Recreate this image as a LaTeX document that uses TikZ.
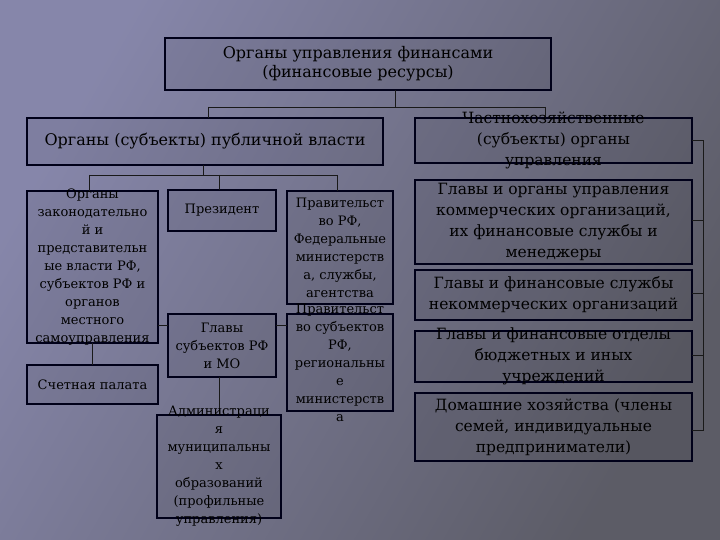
\documentclass[tikz,border=0pt]{standalone}
\usepackage{fontspec}
\setmainfont{DejaVu Serif}
\begin{document}
\begin{tikzpicture}[x=1pt,y=-1pt,
  bx/.style={draw=black!90!blue,line width=1.8pt,fill=black,fill opacity=0.06,draw opacity=1,inner sep=0},
  tx/.style={align=center,text=black,inner sep=0},
  big/.style={tx,font=\fontsize{16}{19}\selectfont},
  sm/.style={tx,font=\fontsize{13}{18}\selectfont},
  rt/.style={tx,font=\fontsize{15.5}{21}\selectfont},
  ln/.style={draw=black!90,line width=0.9pt}]
\shade[left color=black!20!blue!25!white!70!black, right color=black!55!blue!20!white!45!black,shading angle=60] (0,0) rectangle (720,540);
\useasboundingbox (0,0) rectangle (720,540);
\def\bx#1#2#3#4#5{\path[bx] (#2,#3) rectangle (#4,#5); \coordinate (#1) at ({(#2+#4)/2},{(#3+#5)/2});}
\bx{top}{165}{38}{551}{90}
\bx{pub}{27}{118}{383}{165}
\bx{zak}{27}{191}{158}{343}
\bx{sch}{27}{365}{158}{404}
\bx{pre}{168}{190}{276}{231}
\bx{prf}{287}{191}{393}{304}
\bx{gls}{168}{314}{276}{377}
\bx{prs}{287}{314}{393}{411}
\bx{adm}{157}{415}{281}{518}
\bx{r1}{415}{118}{692}{163}
\bx{r2}{415}{180}{692}{264}
\bx{r3}{415}{270}{692}{320}
\bx{r4}{415}{331}{692}{382}
\bx{r5}{415}{393}{692}{461}
% connectors
\draw[ln] (395,90) -- (395,107) (208,107) -- (545,107) (208,107) -- (208,118) (545,107) -- (545,118);
\draw[ln] (203,165) -- (203,175) (89,175) -- (337,175) (89,175) -- (89,191) (219,175) -- (219,190) (337,175) -- (337,191);
\draw[ln] (158,325) -- (168,325) (276,325) -- (287,325);
\draw[ln] (92,343) -- (92,365) (219,377) -- (219,415);
\draw[ln] (692,140) -- (703,140) -- (703,430) -- (692,430) (692,220) -- (703,220) (692,293) -- (703,293) (692,355) -- (703,355);
% texts
\node[big] at (top) {Органы управления финансами\\(финансовые ресурсы)};
\node[big] at (pub) {Органы (субъекты) публичной власти};
\node[sm] at (zak) {Органы\\законодательно\\й и\\представительн\\ые власти РФ,\\субъектов РФ и\\органов\\местного\\самоуправления};
\node[sm] at (sch) {Счетная палата};
\node[sm] at (pre) {Президент};
\node[sm] at (prf) {Правительст\\во РФ,\\Федеральные\\министерств\\а, службы,\\агентства};
\node[sm] at (gls) {Главы\\субъектов РФ\\и МО};
\node[sm] at (prs) {Правительст\\во субъектов\\РФ,\\региональны\\е\\министерств\\а};
\node[sm] at (adm) {Администраци\\я\\муниципальны\\х\\образований\\(профильные\\управления)};
\node[rt] at (r1) {Частнохозяйственные\\(субъекты) органы\\управления};
\node[rt] at (r2) {Главы и органы управления\\коммерческих организаций,\\их финансовые службы и\\менеджеры};
\node[rt] at (r3) {Главы и финансовые службы\\некоммерческих организаций};
\node[rt] at (r4) {Главы и финансовые отделы\\бюджетных и иных\\учреждений};
\node[rt] at (r5) {Домашние хозяйства (члены\\семей, индивидуальные\\предприниматели)};
\end{tikzpicture}
\end{document}
